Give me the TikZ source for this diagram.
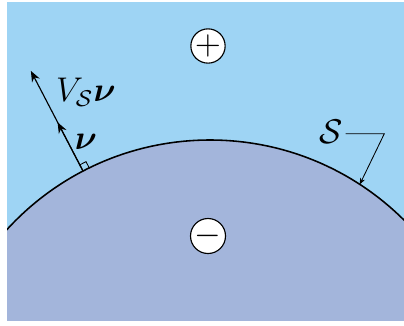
\documentclass[tikz,border=0pt]{standalone}
\usepackage{amsmath,bm}
\usetikzlibrary{positioning,calc,arrows.meta}
\definecolor{outerblue}{RGB}{158,212,244}
\definecolor{innerblue}{RGB}{163,181,219}

\begin{document}
\begin{tikzpicture}[
            x=0.35pt, y=0.35pt,
            sign/.style={draw, circle, fill=white, line width=0.4pt, minimum size=12pt, inner sep=0pt, font=\large},
            lbl/.style={font=\fontsize{11.5}{13}\selectfont},
            vec/.style={line width=0.4pt, -{Stealth[length=3.8pt, width=3pt]}},
            pointer/.style={line width=0.3pt, -{Stealth[length=2.2pt, width=1.8pt]}}
        ]
        \useasboundingbox (0,0) rectangle (404,325);
        \fill[outerblue] (7,5) rectangle (404,323);

        \coordinate (C) at (210,-90);
        \begin{scope}
            \clip (7,5) rectangle (404,323);
            \fill[innerblue] (C) circle (275);
            \draw[line width=0.55pt] (C) circle (275);
        \end{scope}

        \node[sign] (plus) at (208,279) {$+$};
        \node[sign] (minus) at (208,89) {$-$};

        \coordinate (base) at ($(C)+(117.5:275)$);
        \coordinate (nutip) at ($(base)+(117.5:55)$);
        \coordinate (vtip) at ($(base)+(117.5:113)$);
        \draw[vec] (base) -- (vtip);
        \draw[vec] (base) -- (nutip);
        \draw[line width=0.3pt] ($(base)+(117.5:7)$) -- ++(27.5:7) -- ($(base)+(27.5:7)$);

        \node[lbl] (nu) at (86,183) {$\bm{\nu}$};
        \node[lbl] (vnu) at (86,233) {$V_{\mathcal{S}}\bm{\nu}$};

        \node[lbl] (surf) at (331,193) {$\mathcal{S}$};
        \coordinate (start) at (345.7,191.3);
        \coordinate (elbow) at (384.3,191.3);
        \coordinate (stip) at ($(C)+(57:275)$);
        \draw[pointer] (start) -- (elbow) -- (stip);
    \end{tikzpicture}
\end{document}
